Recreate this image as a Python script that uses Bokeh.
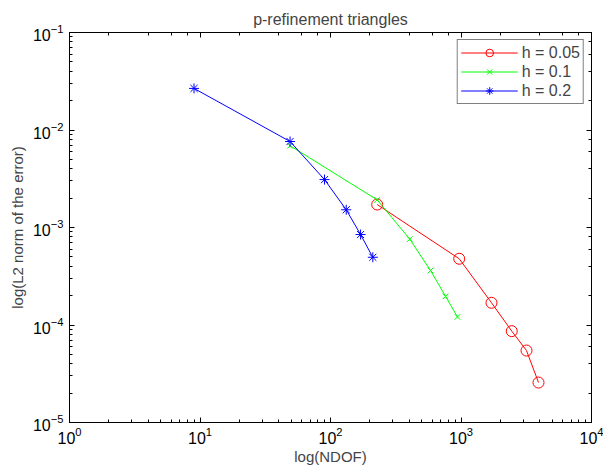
from bokeh.plotting import figure
from bokeh.models import LogAxis, Range1d, Legend, LegendItem, CustomJSTickFormatter
from bokeh.embed import file_html
from bokeh.resources import INLINE

# data
ndof_h005 = [228, 969, 1713, 2449, 3177, 3926]
err_h005 = [1.72e-3, 4.78e-4, 1.69e-4, 8.65e-5, 5.47e-5, 2.57e-5]

ndof_h01 = [49, 228, 405, 584, 761, 940]
err_h01 = [6.9e-3, 1.92e-3, 7.6e-4, 3.62e-4, 1.97e-4, 1.21e-4]

ndof_h02 = [9, 49, 90, 132, 170, 211]
err_h02 = [2.67e-2, 7.62e-3, 3.1e-3, 1.52e-3, 8.47e-4, 4.95e-4]

FONT = "Liberation Sans"

p = figure(width=603, height=471, x_axis_type="log", y_axis_type="log",
           x_range=Range1d(1, 1e4), y_range=Range1d(1e-5, 1e-1),
           output_backend="svg", toolbar_location=None,
           title="p-refinement triangles",
           min_border_left=69, min_border_right=12,
           min_border_top=32, min_border_bottom=49)
p.title.align = "center"
p.title.text_font = FONT
p.title.text_font_size = "16px"
p.title.text_font_style = "normal"
p.title.standoff = 9
p.title.text_line_height = 1.0
p.grid.visible = False
p.outline_line_color = "black"
p.outline_line_width = 1
p.background_fill_color = "white"
p.border_fill_color = "white"

def style_axis(ax):
    ax.major_tick_in = 5
    ax.major_tick_out = 0
    ax.minor_tick_in = 3
    ax.minor_tick_out = 0
    ax.axis_line_color = "black"
    ax.major_tick_line_color = "black"
    ax.minor_tick_line_color = "black"
    ax.major_label_text_font = FONT
    ax.major_label_text_font_size = "16px"
    ax.major_label_text_color = "black"
    ax.axis_label_text_font = FONT
    ax.axis_label_text_font_size = "15px"
    ax.axis_label_text_font_style = "normal"

style_axis(p.xaxis[0])
style_axis(p.yaxis[0])
p.xaxis[0].axis_label = "log(NDOF)"
p.yaxis[0].axis_label = "log(L2 norm of the error)"
p.xaxis[0].major_label_standoff = 4
p.xaxis[0].axis_label_standoff = 1
p.yaxis[0].major_label_standoff = 6
p.yaxis[0].axis_label_standoff = 4

top = LogAxis(formatter=CustomJSTickFormatter(code="return ''"))
style_axis(top)
top.major_label_standoff = 0
top.major_label_text_font_size = "1px"
p.add_layout(top, "above")
right = LogAxis(formatter=CustomJSTickFormatter(code="return ''"))
style_axis(right)
right.major_label_standoff = 0
right.major_label_text_font_size = "1px"
p.add_layout(right, "right")

r1 = p.line(ndof_h005, err_h005, line_color="#ff0000", line_width=1)
m1 = p.scatter(ndof_h005, err_h005, marker="circle", size=11, line_color="#ff0000", fill_color=None, line_width=1)
r2 = p.line(ndof_h01, err_h01, line_color="#00ff00", line_width=1)
m2 = p.scatter(ndof_h01, err_h01, marker="x", size=8, line_color="#00ff00", line_width=1)
r3 = p.line(ndof_h02, err_h02, line_color="#0000ff", line_width=1)
m3 = p.scatter(ndof_h02, err_h02, marker="asterisk", size=10, line_color="#0000ff", line_width=1)

legend = Legend(items=[
    LegendItem(label="h = 0.05", renderers=[r1, m1]),
    LegendItem(label="h = 0.1", renderers=[r2, m2]),
    LegendItem(label="h = 0.2", renderers=[r3, m3]),
], location="top_right")
legend.label_text_font = FONT
legend.label_text_font_size = "16px"
legend.border_line_color = "black"
legend.border_line_width = 1
legend.margin = 7
legend.padding = 3
legend.spacing = 0
legend.glyph_width = 57
legend.glyph_height = 19
legend.label_height = 19
legend.label_standoff = 4
legend.background_fill_alpha = 1
p.add_layout(legend, "center")

open("out.html", "w").write(file_html(p, INLINE))
